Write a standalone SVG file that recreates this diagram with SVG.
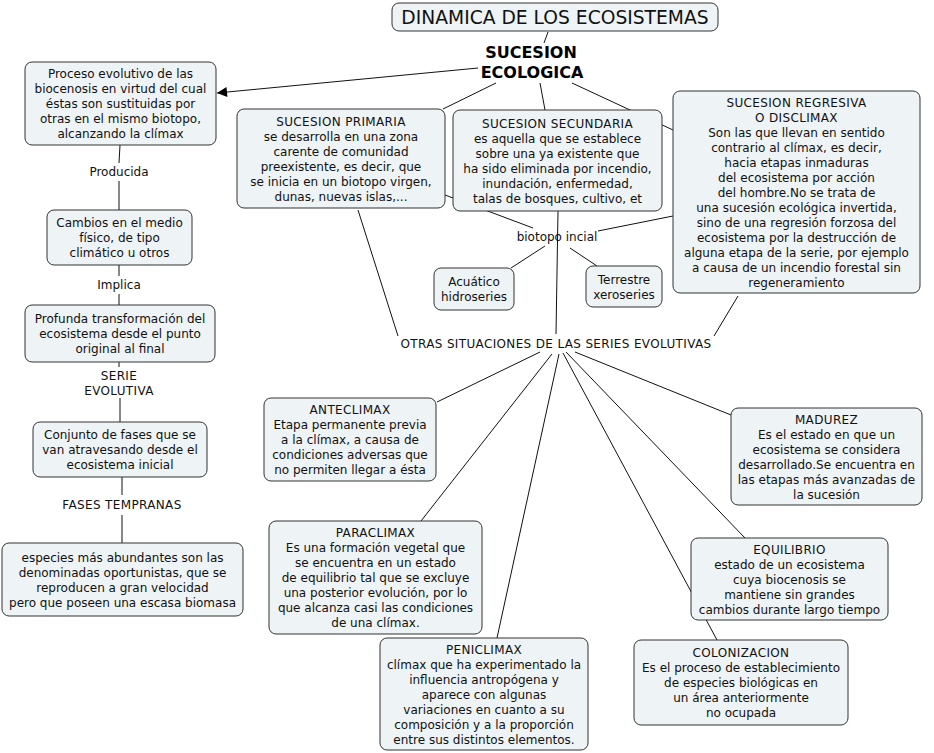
<svg xmlns="http://www.w3.org/2000/svg" width="934" height="753" viewBox="0 0 934 753">
<style>
.n rect{fill:#eef3f5;stroke:#333;stroke-width:1}
text{font-family:"DejaVu Sans",Verdana,sans-serif;font-size:12px;fill:#111;text-anchor:middle}
.t{font-size:18.7px}
.b{font-weight:bold;font-size:16px;fill:#000}
.u{letter-spacing:0.35px}
#connectors line{stroke:#111;stroke-width:1}
</style>
<defs>
<marker id="arr" viewBox="0 0 10 10" refX="10" refY="5" markerWidth="12" markerHeight="10" markerUnits="userSpaceOnUse" orient="auto">
<path d="M0,0 L10,5 L0,10 z" fill="#000"/>
</marker>
</defs>
<rect width="934" height="753" fill="#fff"/>
<g id="connectors">
<line x1="548" y1="32" x2="544" y2="43"/>
<line x1="478" y1="68" x2="217" y2="93" marker-end="url(#arr)"/>
<line x1="496" y1="83" x2="443" y2="109"/>
<line x1="540" y1="83" x2="545" y2="110"/>
<line x1="572" y1="83" x2="673" y2="130"/>
<line x1="120" y1="145" x2="119" y2="163"/>
<line x1="119" y1="181" x2="119" y2="210"/>
<line x1="119" y1="265" x2="119" y2="276"/>
<line x1="119" y1="294" x2="119" y2="305"/>
<line x1="119" y1="362" x2="119" y2="367"/>
<line x1="120" y1="398" x2="120" y2="422"/>
<line x1="122" y1="477" x2="122" y2="495"/>
<line x1="122" y1="515" x2="122" y2="543"/>
<line x1="445" y1="195" x2="533" y2="228"/>
<line x1="673" y1="216" x2="598" y2="231"/>
<line x1="545" y1="246" x2="511" y2="268"/>
<line x1="570" y1="248" x2="597" y2="266"/>
<line x1="558" y1="211" x2="556" y2="334"/>
<line x1="358" y1="210" x2="398" y2="336"/>
<line x1="738" y1="296" x2="714" y2="336"/>
<line x1="540" y1="352" x2="437" y2="402"/>
<line x1="552" y1="354" x2="421" y2="521"/>
<line x1="559" y1="354" x2="497" y2="638"/>
<line x1="563" y1="353" x2="717" y2="640"/>
<line x1="566" y1="352" x2="745" y2="538"/>
<line x1="575" y1="352" x2="731" y2="415"/>
</g>
<g id="title" class="n"><rect x="392" y="3" width="326" height="28" rx="7"/><text class="t" x="555" y="23.5">DINAMICA DE LOS ECOSISTEMAS</text></g>
<g id="sucesion"><text class="b" x="531" y="58">SUCESION</text><text class="b" x="532" y="78">ECOLOGICA</text></g>
<g id="proceso" class="n"><rect x="25" y="62" width="191" height="83" rx="7"/>
<text x="120.5" y="78">Proceso evolutivo de las</text><text x="120.5" y="93">biocenosis en virtud del cual</text><text x="120.5" y="108">éstas son sustituidas por</text><text x="120.5" y="123">otras en el mismo biotopo,</text><text x="120.5" y="138">alcanzando la clímax</text></g>
<g id="lbl-producida"><text x="119" y="176">Producida</text></g>
<g id="cambios" class="n"><rect x="47" y="210" width="145" height="55" rx="7"/>
<text x="119.5" y="227">Cambios en el medio</text><text x="119.5" y="242">físico, de tipo</text><text x="119.5" y="257">climático u otros</text></g>
<g id="lbl-implica"><text x="119" y="289">Implica</text></g>
<g id="profunda" class="n"><rect x="25" y="305" width="190" height="57" rx="7"/>
<text x="120" y="323">Profunda transformación del</text><text x="120" y="338">ecosistema desde el punto</text><text x="120" y="353">original al final</text></g>
<g id="lbl-serie"><text class="u" x="119" y="380">SERIE</text><text class="u" x="119" y="395">EVOLUTIVA</text></g>
<g id="conjunto" class="n"><rect x="33" y="422" width="174" height="55" rx="7"/>
<text x="120" y="439">Conjunto de fases que se</text><text x="120" y="454">van atravesando desde el</text><text x="120" y="469">ecosistema inicial</text></g>
<g id="lbl-fases"><text class="u" x="122" y="509">FASES TEMPRANAS</text></g>
<g id="especies" class="n"><rect x="2" y="543" width="241" height="73" rx="7"/>
<text x="122.5" y="561.5">especies más abundantes son las</text><text x="122.5" y="576.5">denominadas oportunistas, que se</text><text x="122.5" y="591.5">reproducen a gran velocidad</text><text x="122.5" y="606.5">pero que poseen una escasa biomasa</text></g>
<g id="primaria" class="n"><rect x="237" y="109" width="208" height="99" rx="7"/>
<text class="u" x="341" y="125.5">SUCESION PRIMARIA</text><text x="341" y="140.5">se desarrolla en una zona</text><text x="341" y="155.5">carente de comunidad</text><text x="341" y="170.5">preexistente, es decir, que</text><text x="341" y="185.5">se inicia en un biotopo virgen,</text><text x="341" y="200.5">dunas, nuevas islas,...</text></g>
<g id="secundaria" class="n"><rect x="453" y="110" width="209" height="101" rx="7"/>
<text class="u" x="557.5" y="127.5">SUCESION SECUNDARIA</text><text x="557.5" y="142.5">es aquella que se establece</text><text x="557.5" y="157.5">sobre una ya existente que</text><text x="557.5" y="172.5">ha sido eliminada por incendio,</text><text x="557.5" y="187.5">inundación, enfermedad,</text><text x="557.5" y="202.5">talas de bosques, cultivo, et</text></g>
<g id="regresiva" class="n"><rect x="673" y="91" width="247" height="202" rx="7"/>
<text class="u" x="796.5" y="106.5">SUCESION REGRESIVA</text><text class="u" x="796.5" y="121.5">O DISCLIMAX</text><text x="796.5" y="136.5">Son las que llevan en sentido</text><text x="796.5" y="151.5">contrario al clímax, es decir,</text><text x="796.5" y="166.5">hacia etapas inmaduras</text><text x="796.5" y="181.5">del ecosistema por acción</text><text x="796.5" y="196.5">del hombre.No se trata de</text><text x="796.5" y="211.5">una sucesión ecológica invertida,</text><text x="796.5" y="226.5">sino de una regresión forzosa del</text><text x="796.5" y="241.5">ecosistema por la destrucción de</text><text x="796.5" y="256.5">alguna etapa de la serie, por ejemplo</text><text x="796.5" y="271.5">a causa de un incendio forestal sin</text><text x="796.5" y="286.5">regeneramiento</text></g>
<g id="lbl-biotopo"><text x="557" y="241">biotopo incial</text></g>
<g id="acuatico" class="n"><rect x="434" y="268" width="80" height="42" rx="7"/>
<text x="474" y="286">Acuático</text><text x="474" y="301">hidroseries</text></g>
<g id="terrestre" class="n"><rect x="586" y="266" width="76" height="41" rx="7"/>
<text x="624" y="283.5">Terrestre</text><text x="624" y="298.5">xeroseries</text></g>
<g id="lbl-otras"><text class="u" x="556" y="348">OTRAS SITUACIONES DE LAS SERIES EVOLUTIVAS</text></g>
<g id="anteclimax" class="n"><rect x="264" y="398" width="172" height="83" rx="7"/>
<text class="u" x="350" y="414">ANTECLIMAX</text><text x="350" y="429">Etapa permanente previa</text><text x="350" y="444">a la clímax, a causa de</text><text x="350" y="459">condiciones adversas que</text><text x="350" y="474">no permiten llegar a ésta</text></g>
<g id="madurez" class="n"><rect x="731" y="408" width="191" height="97" rx="7"/>
<text class="u" x="826.5" y="423.5">MADUREZ</text><text x="826.5" y="438.5">Es el estado en que un</text><text x="826.5" y="453.5">ecosistema se considera</text><text x="826.5" y="468.5">desarrollado.Se encuentra en</text><text x="826.5" y="483.5">las etapas más avanzadas de</text><text x="826.5" y="498.5">la sucesión</text></g>
<g id="paraclimax" class="n"><rect x="269" y="521" width="213" height="113" rx="7"/>
<text class="u" x="375.5" y="537">PARACLIMAX</text><text x="375.5" y="552">Es una formación vegetal que</text><text x="375.5" y="567">se encuentra en un estado</text><text x="375.5" y="582">de equilibrio tal que se excluye</text><text x="375.5" y="597">una posterior evolución, por lo</text><text x="375.5" y="612">que alcanza casi las condiciones</text><text x="375.5" y="627">de una clímax.</text></g>
<g id="equilibrio" class="n"><rect x="691" y="538" width="197" height="82" rx="7"/>
<text class="u" x="789.5" y="553.5">EQUILIBRIO</text><text x="789.5" y="568.5">estado de un ecosistema</text><text x="789.5" y="583.5">cuya biocenosis se</text><text x="789.5" y="598.5">mantiene sin grandes</text><text x="789.5" y="613.5">cambios durante largo tiempo</text></g>
<g id="peniclimax" class="n"><rect x="380" y="638" width="208" height="112" rx="7"/>
<text class="u" x="484" y="653.5">PENICLIMAX</text><text x="484" y="668.5">clímax que ha experimentado la</text><text x="484" y="683.5">influencia antropógena y</text><text x="484" y="698.5">aparece con algunas</text><text x="484" y="713.5">variaciones en cuanto a su</text><text x="484" y="728.5">composición y a la proporción</text><text x="484" y="743.5">entre sus distintos elementos.</text></g>
<g id="colonizacion" class="n"><rect x="634" y="640" width="214" height="85" rx="7"/>
<text class="u" x="741" y="657">COLONIZACION</text><text x="741" y="672">Es el proceso de establecimiento</text><text x="741" y="687">de especies biológicas en</text><text x="741" y="702">un área anteriormente</text><text x="741" y="717">no ocupada</text></g>
</svg>
